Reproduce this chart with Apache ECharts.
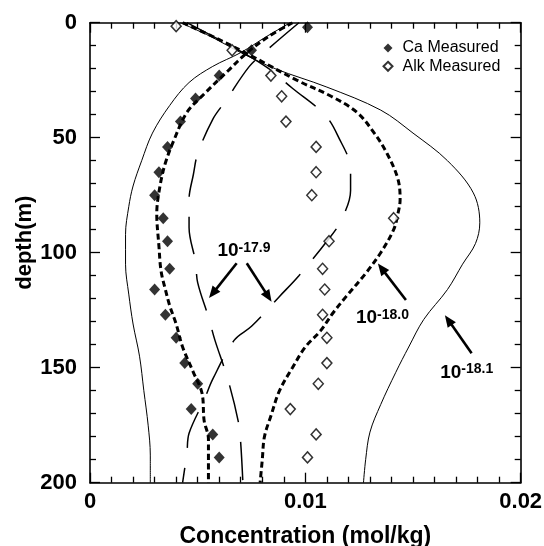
<!DOCTYPE html>
<html><head><meta charset="utf-8">
<script src="https://cdn.jsdelivr.net/npm/echarts@6/dist/echarts.min.js"></script>
<style>html,body{margin:0;padding:0;background:#fff}#c{width:544px;height:546px}</style>
</head><body><div id="c"></div>
<script>
// ---- tick labels ----
const xTickLabels = ['0', '0.01', '0.02'];
const yTickLabels = ['0', '50', '100', '150', '200'];

// ---- measured data ----
const caDepth = [2, 12, 23, 33, 43, 54, 65, 75, 85, 95, 107, 116, 127, 137, 148, 157, 168, 179, 189];
const caConc  = [0.0101, 0.0075, 0.0060, 0.0049, 0.0042, 0.0036, 0.0032, 0.0030, 0.0034, 0.0036, 0.0037, 0.0030, 0.0035, 0.0040, 0.0044, 0.0050, 0.0047, 0.0057, 0.0060];
const alkDepth = [1.5, 12, 23, 32, 43, 54, 65, 75, 85, 95, 107, 116, 127, 137, 148, 157, 168, 179, 189];
const alkConc  = [0.0040, 0.0066, 0.0084, 0.0089, 0.0091, 0.0105, 0.0105, 0.0103, 0.0141, 0.0111, 0.0108, 0.0109, 0.0108, 0.0110, 0.0110, 0.0106, 0.0093, 0.0105, 0.0101];

// ---- model curves: 10^-18.1 (thin solid) ----
const caThinDepth = [0, 6, 13, 19, 26, 36, 48, 60, 71, 80, 92, 105, 118, 131, 145, 160, 175, 188, 200];
const caThinConc  = [0.0093, 0.0082, 0.0070, 0.0057, 0.0046, 0.0037, 0.0029, 0.0024, 0.0020, 0.0018, 0.00165, 0.00165, 0.0018, 0.0020, 0.0023, 0.0025, 0.0027, 0.0028, 0.0028];
const alkThinDepth = [0, 6, 13, 20, 28, 38, 48, 60, 74, 87, 96, 105, 116, 129, 141, 152, 166, 178, 190, 200];
const alkThinConc  = [0.0042, 0.0056, 0.0070, 0.0086, 0.0110, 0.0135, 0.0150, 0.0166, 0.0178, 0.0181, 0.0179, 0.0173, 0.0166, 0.0155, 0.0148, 0.0142, 0.0135, 0.0130, 0.0128, 0.0127];

// ---- model curves: 10^-18.0 (heavy short dash) ----
const caShortDepth = [0, 6, 13, 21, 31, 39, 51, 61, 71, 83, 97, 108, 116, 123, 131, 141, 152, 161, 173, 181, 190, 200];
const caShortConc  = [0.0094, 0.0083, 0.0073, 0.0064, 0.0053, 0.0045, 0.0039, 0.0035, 0.00325, 0.0031, 0.0032, 0.0033, 0.0035, 0.0037, 0.0040, 0.0043, 0.0048, 0.0052, 0.0053, 0.0055, 0.0055, 0.0055];
const alkShortDepth = [0, 6, 13, 18, 25, 32, 39, 48, 57, 68, 77, 83, 90, 100, 109, 119, 126, 134, 141, 150, 160, 171, 180, 190, 200];
const alkShortConc  = [0.0043, 0.0057, 0.0072, 0.0082, 0.0096, 0.0112, 0.0124, 0.0132, 0.0138, 0.0143, 0.0144, 0.0143, 0.0141, 0.0135, 0.0128, 0.0119, 0.0113, 0.0107, 0.0100, 0.0094, 0.0088, 0.0084, 0.0081, 0.0080, 0.0079];

// ---- model curves: 10^-17.9 (long dash) ----
const caLongDepth = [0, 12, 19, 34, 42, 57, 66, 77, 89, 104, 113, 128, 138, 155, 174, 183, 200];
const caLongConc  = [0.0097, 0.0082, 0.0074, 0.0063, 0.0057, 0.0050, 0.0048, 0.0046, 0.0046, 0.0049, 0.0050, 0.0055, 0.0058, 0.0064, 0.0069, 0.0070, 0.0071];
const alkLongDepth = [0, 13, 20, 28.5, 40, 49, 64, 73, 87, 95, 110, 119, 132, 138, 155, 164, 178.5, 187, 200];
const alkLongConc  = [0.0045, 0.0071, 0.0083, 0.0094, 0.0109, 0.0115, 0.0121, 0.0121, 0.0116, 0.0110, 0.0097, 0.0088, 0.0075, 0.0067, 0.0057, 0.0053, 0.0046, 0.0045, 0.0043];

// ---- annotations (data units) ----
const labelExp   = ['-17.9', '-18.0', '-18.1'];
const labelConc  = [0.00715, 0.01358, 0.01749];
const labelDepth = [99.3, 128.4, 152.1];
const arrowFromConc  = [0.00681, 0.00728, 0.01467, 0.01772];
const arrowFromDepth = [104.6, 104.6, 120.6, 143.7];
const arrowToConc    = [0.00570, 0.00828, 0.01354, 0.01664];
const arrowToDepth   = [117.7, 119.1, 106.8, 129.3];

const FONT = '"Liberation Sans", Arial, Helvetica, sans-serif';
const zip = (xs, ys) => xs.map((x, i) => [x, ys[i]]);

function lineSeries(name, conc, depth, width, dash, extra) {
  return Object.assign({
    name, type: 'line', data: zip(conc, depth), showSymbol: false, smooth: 0.35,
    lineStyle: { color: '#000', width, type: dash }, z: 2, silent: true, animation: false
  }, extra || {});
}

const chart = echarts.init(document.getElementById('c'), null, { renderer: 'canvas' });

const axisCommon = {
  axisLine: { show: true, onZero: false, lineStyle: { color: '#000', width: 1.6 } },
  axisTick: { show: true, inside: true, length: 10, lineStyle: { color: '#000', width: 1.3 } },
  minorTick: { show: true, length: 6, lineStyle: { color: '#000', width: 1.3 } },
  splitLine: { show: false }, minorSplitLine: { show: false }
};

chart.setOption({
  animation: false,
  backgroundColor: '#fff',
  grid: { left: 90, right: 23.3, top: 22.7, bottom: 63.3, outerBoundsMode: 'none', containLabel: false },
  legend: {
    data: ['Ca Measured', 'Alk Measured'], orient: 'vertical', left: 382.5, top: 40,
    padding: 0, itemGap: 2.3, itemWidth: 9, itemHeight: 9,
    textStyle: { fontFamily: FONT, fontSize: 16, color: '#000', padding: [0, 0, 0, 5] }
  },
  xAxis: [
    Object.assign({
      type: 'value', min: 0, max: 0.02, interval: 0.01, position: 'bottom',
      name: 'Concentration (mol/kg)', nameLocation: 'middle', nameGap: 42, nameMoveOverlap: false,
      nameTextStyle: { fontFamily: FONT, fontSize: 23, fontWeight: 'bold', color: '#000' },
      axisLabel: { show: true, margin: 8, fontFamily: FONT, fontSize: 22, fontWeight: 'bold', color: '#000',
        formatter: v => xTickLabels[Math.round(v / 0.01)] }
    }, axisCommon, { minorTick: Object.assign({}, axisCommon.minorTick, { splitNumber: 10 }) }),
    Object.assign({
      type: 'value', min: 0, max: 0.02, interval: 0.01, position: 'top',
      axisLabel: { show: false }
    }, axisCommon, { minorTick: Object.assign({}, axisCommon.minorTick, { splitNumber: 10 }) })
  ],
  yAxis: [
    Object.assign({
      type: 'value', min: 0, max: 200, interval: 50, inverse: true, position: 'left',
      name: 'depth(m)', nameLocation: 'middle', nameGap: 54, nameRotate: 90, nameMoveOverlap: false,
      nameTextStyle: { fontFamily: FONT, fontSize: 22, fontWeight: 'bold', color: '#000', padding: [0, 0, 0, 20] },
      axisLabel: { show: true, margin: 13, fontFamily: FONT, fontSize: 22, fontWeight: 'bold', color: '#000',
        formatter: v => yTickLabels[Math.round(v / 50)] }
    }, axisCommon, { minorTick: Object.assign({}, axisCommon.minorTick, { splitNumber: 5 }) }),
    Object.assign({
      type: 'value', min: 0, max: 200, interval: 50, inverse: true, position: 'right',
      axisLabel: { show: false }
    }, axisCommon, { minorTick: Object.assign({}, axisCommon.minorTick, { splitNumber: 5 }) })
  ],
  series: [
    lineSeries('Ca 10^-18.1', caThinConc, caThinDepth, 1, 'solid', {
      markLine: {
        silent: true, animation: false, symbol: ['none', 'triangle'], symbolSize: [10, 12],
        lineStyle: { color: '#000', width: 2.6, type: 'solid' }, label: { show: false },
        itemStyle: { color: '#000' },
        data: arrowFromConc.map((c, i) => [
          { coord: [c, arrowFromDepth[i]] },
          { coord: [arrowToConc[i], arrowToDepth[i]] }
        ])
      },
      markPoint: {
        silent: true, animation: false, symbol: 'circle', symbolSize: 0,
        label: {
          show: true, position: 'inside', color: '#000',
          formatter: p => '{a|10}{b|' + p.name + '}',
          rich: {
            a: { fontFamily: FONT, fontSize: 19, fontWeight: 'bold', color: '#000', lineHeight: 20 },
            b: { fontFamily: FONT, fontSize: 14, fontWeight: 'bold', color: '#000', lineHeight: 14, verticalAlign: 'top' }
          }
        },
        data: labelExp.map((e, i) => ({ name: e, coord: [labelConc[i], labelDepth[i]] }))
      }
    }),
    lineSeries('Alk 10^-18.1', alkThinConc, alkThinDepth, 1, 'solid'),
    lineSeries('Ca 10^-18.0', caShortConc, caShortDepth, 3, [6, 3.5]),
    lineSeries('Alk 10^-18.0', alkShortConc, alkShortDepth, 3, [6, 3.5]),
    lineSeries('Ca 10^-17.9', caLongConc, caLongDepth, 1.5, [38, 20]),
    lineSeries('Alk 10^-17.9', alkLongConc, alkLongDepth, 1.5, [38, 20]),
    {
      name: 'Ca Measured', type: 'scatter', data: zip(caConc, caDepth), symbol: 'diamond',
      symbolSize: [11, 12], itemStyle: { color: '#000' }, z: 5, silent: true
    },
    {
      name: 'Alk Measured', type: 'scatter', data: zip(alkConc, alkDepth), symbol: 'diamond',
      symbolSize: [10, 11], itemStyle: { color: '#fff', borderColor: '#000', borderWidth: 1.5 }, z: 5, silent: true
    }
  ]
});
</script>
</body></html>
